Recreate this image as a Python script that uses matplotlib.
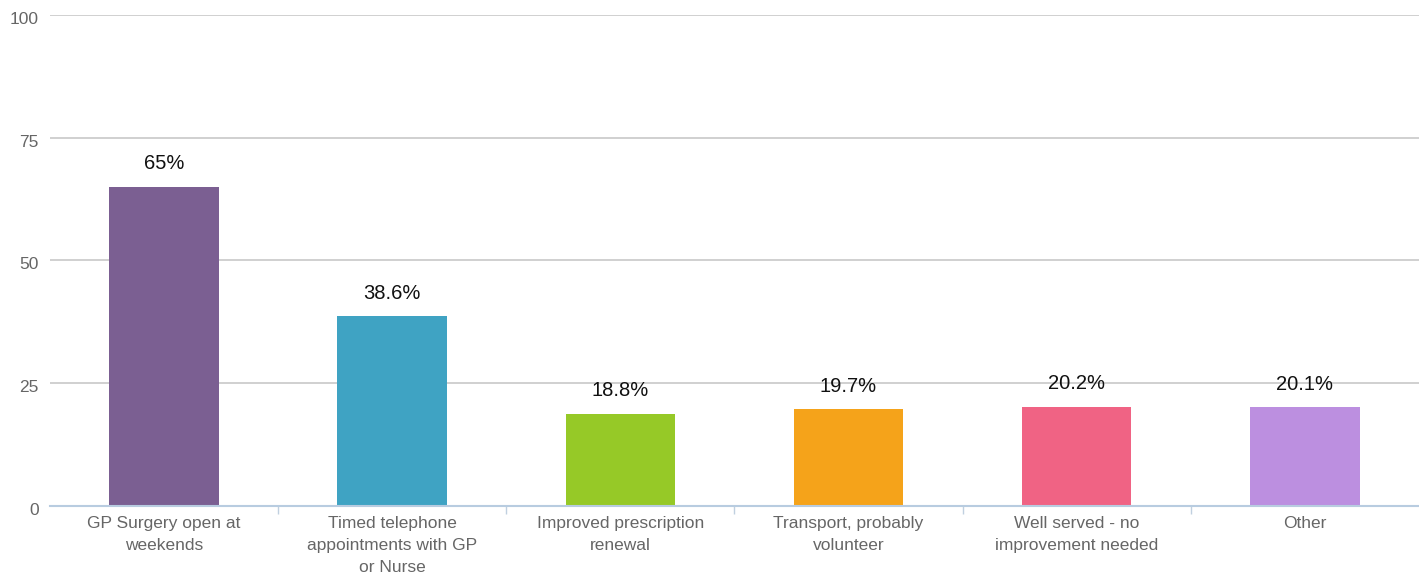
import matplotlib.pyplot as plt
import matplotlib.transforms as mtransforms
import numpy as np

# ── DATA ────────────────────────────────────────────────────
CATEGORIES = [
    "GP Surgery open at\nweekends",
    "Timed telephone\nappointments with GP\nor Nurse",
    "Improved prescription\nrenewal",
    "Transport, probably\nvolunteer",
    "Well served - no\nimprovement needed",
    "Other",
]
VALUES = [65, 38.6, 18.8, 19.7, 20.2, 20.1]
VALUE_LABELS = ["65%", "38.6%", "18.8%", "19.7%", "20.2%", "20.1%"]
COLORS = ["#7b5f92", "#3fa3c3", "#96c927", "#f5a31a", "#f06384", "#bc8fe0"]
Y_TICKS = [0, 25, 50, 75, 100]
# ────────────────────────────────────────────────────────────

plt.rcParams["font.family"] = ["Liberation Sans", "DejaVu Sans"]

fig = plt.figure(figsize=(14.19, 5.75), dpi=100)
ax = fig.add_axes([0.0352, 0.12, 0.9648, 0.854])

x = np.arange(len(CATEGORIES))
bars = ax.bar(x, VALUES, width=0.48, color=COLORS, zorder=3)

for bar, lab in zip(bars, VALUE_LABELS):
    ax.annotate(lab, (bar.get_x() + bar.get_width() / 2, bar.get_height()),
                xytext=(0, 12.5), textcoords="offset points",
                ha="center", va="baseline", fontsize=14.5, color="#111111")

ax.set_xlim(-0.5, len(CATEGORIES) - 0.5)
ax.set_ylim(0, 100)
ax.set_yticks(Y_TICKS)
ax.yaxis.grid(True, color="#c8c8c8", linewidth=1.2, zorder=0)
ax.tick_params(axis="y", length=0, labelsize=12.5, labelcolor="#666666", pad=8)
# etichette y leggermente più in basso, come nel riferimento
shift = mtransforms.ScaledTranslation(0, -3 / 100, fig.dpi_scale_trans)
for lbl in ax.get_yticklabels():
    lbl.set_transform(lbl.get_transform() + shift)

ax.set_xticks(x)
ax.set_xticklabels(CATEGORIES, linespacing=1.55)
ax.tick_params(axis="x", which="major", length=0, labelsize=12.5,
               labelcolor="#666666", pad=7.5)
ax.set_xticks(np.arange(0.5, len(CATEGORIES) - 0.5, 1), minor=True)
ax.tick_params(axis="x", which="minor", length=6, color="#c0d0e0", width=1)

for s in ["top", "right", "left"]:
    ax.spines[s].set_visible(False)
ax.spines["bottom"].set_color("#b8cce0")
ax.spines["bottom"].set_linewidth(1.5)
ax.spines["bottom"].set_zorder(4)

fig.savefig("out.png", dpi=100)
